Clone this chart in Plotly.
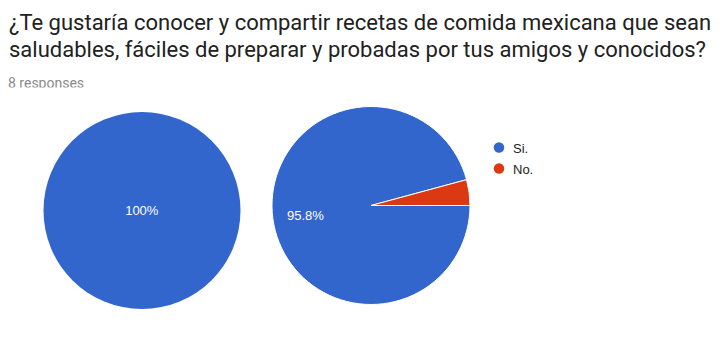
import plotly.graph_objects as go

# ---- data ----
labels = ["Si.", "No."]
colors = ["#3366CC", "#DC3912"]
left_values = [8, 0]
right_values = [95.8, 4.2]
title_lines = [
    "¿Te gustaría conocer y compartir recetas de comida mexicana que sean",
    "saludables, fáciles de preparar y probadas por tus amigos y conocidos?",
]
subtitle = "8 responses"

W, H = 726, 345

fig = go.Figure()

fig.add_trace(go.Pie(
    labels=labels, values=left_values, sort=False, direction="clockwise", rotation=90,
    marker=dict(colors=colors, line=dict(color="white", width=0)),
    textinfo="percent", textposition="inside", insidetextorientation="horizontal",
    textfont=dict(family="Liberation Sans, Arial", size=13, color="white"),
    domain=dict(x=[43.5 / W, 240.5 / W], y=[36 / H, 233 / H]),
    showlegend=False, hoverinfo="label+percent",
))
fig.add_trace(go.Pie(
    labels=labels, values=right_values, sort=False, direction="clockwise", rotation=90,
    marker=dict(colors=colors, line=dict(color="white", width=1)),
    textinfo="none",
    domain=dict(x=[272 / W, 470 / W], y=[40.5 / H, 238.5 / H]),
    showlegend=False, hoverinfo="label+percent",
))

# percentage label of the large slice of the right pie
pct = right_values[0] / sum(right_values) * 100
fig.add_annotation(text=f"{pct:.1f}%", xref="paper", yref="paper",
                   x=305 / W, y=1 - 215 / H, xanchor="center", yanchor="middle",
                   showarrow=False,
                   font=dict(family="Liberation Sans, Arial", size=13, color="white"))

# legend (circle markers + labels)
leg_x, leg_y0, leg_dy = 499, 147.5, 21
fig.add_trace(go.Scatter(
    x=[leg_x] * len(labels), y=[leg_y0 + i * leg_dy for i in range(len(labels))],
    mode="markers", marker=dict(symbol="circle", size=10.5, color=colors, line=dict(width=0)),
    showlegend=False, hoverinfo="skip",
))
for i, lab in enumerate(labels):
    fig.add_annotation(text=lab, xref="x", yref="y", x=leg_x + 12, y=leg_y0 + i * leg_dy + 0.5,
                       xanchor="left", yanchor="middle", showarrow=False,
                       font=dict(family="Liberation Sans, Arial", size=13, color="#222222"))

# subtitle (partly hidden, as in the screenshot)
fig.add_trace(go.Scatter(
    x=[8], y=[84.5], mode="text", text=[subtitle], textposition="middle right",
    textfont=dict(family="Roboto, Arial", size=14, color="#8a8a8a"),
    showlegend=False, hoverinfo="skip",
))
fig.add_shape(type="rect", xref="x", yref="y", x0=0, x1=140, y0=87.5, y1=100,
              fillcolor="white", line=dict(width=0), layer="above")

fig.add_annotation(text=title_lines[0], xref="paper", yref="paper",
                   x=7 / W, y=1 - 8 / H, xanchor="left", yanchor="top", showarrow=False,
                   font=dict(family="Roboto", size=22, color="#212121"))
fig.add_annotation(text=title_lines[1], xref="paper", yref="paper",
                   x=7 / W, y=1 - 35 / H, xanchor="left", yanchor="top", showarrow=False,
                   font=dict(family="Roboto", size=22, color="#212121"))

fig.update_layout(
    width=W, height=H, margin=dict(l=0, r=0, t=0, b=0),
    paper_bgcolor="white", plot_bgcolor="rgba(0,0,0,0)",
    xaxis=dict(visible=False, range=[0, W], domain=[0, 1], fixedrange=True),
    yaxis=dict(visible=False, range=[H, 0], domain=[0, 1], fixedrange=True),
    showlegend=False,
)

fig.write_html("out.html")
